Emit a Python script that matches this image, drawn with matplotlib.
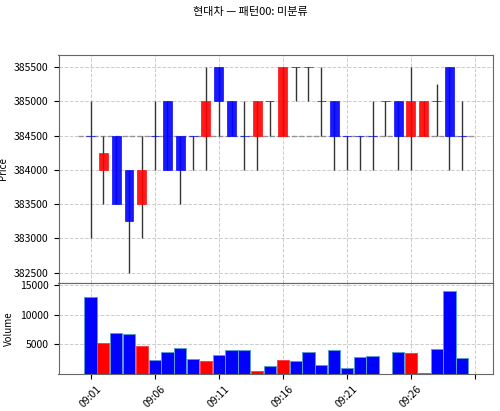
import numpy as np
import matplotlib
matplotlib.use('Agg')
import matplotlib.pyplot as plt

plt.rcParams['font.family'] = ['Noto Sans CJK KR', 'DejaVu Sans']
plt.rcParams['axes.unicode_minus'] = False

times = ['09:%02d' % m for m in range(1, 31)]
opens = [384500, 384000, 384500, 384000, 383500, 384500, 385000, 384500, 384500, 384500,
         385500, 385000, 384500, 384500, 385000, 384500, 385500, 385500, 385000, 385000,
         384500, 384500, 384500, 385000, 385000, 384500, 384500, 385000, 385500, 384500]
highs = [385000, 384500, 384500, 384000, 384500, 385000, 385000, 384500, 384500, 385500,
         385500, 385000, 385000, 385000, 385000, 385500, 385500, 385500, 385500, 385000,
         384500, 384500, 385000, 385000, 385000, 385500, 385000, 385250, 385500, 385000]
lows = [383000, 383500, 383500, 382500, 383000, 384000, 384000, 383500, 384000, 384000,
        384500, 384500, 384000, 384000, 384500, 384500, 385000, 385000, 384500, 384000,
        384000, 384000, 384000, 384500, 384000, 384000, 384500, 384500, 384000, 384000]
closes = [384500, 384250, 383500, 383250, 384000, 384500, 384000, 384000, 384500, 385000,
          385000, 384500, 384500, 385000, 385000, 385500, 385500, 385500, 385000, 384500,
          384500, 384500, 384500, 385000, 384500, 385000, 385000, 385000, 384500, 384500]
volumes = [13000, 5300, 6950, 6800, 4650, 2450, 3650, 4400, 2600, 2250,
           3150, 4100, 4100, 550, 1300, 2450, 2250, 3800, 1550, 4100,
           1100, 2800, 3100, 50, 3700, 3600, 150, 4250, 14000, 2650]
ref_price = 384500

n = len(times)
x = np.arange(n)
o = np.array(opens)
c = np.array(closes)
up = c > o
colors = np.where(up, 'red', 'blue')

fig, (ax, axv) = plt.subplots(2, 1, figsize=(5, 4.11), dpi=100, sharex=True,
                              gridspec_kw={'height_ratios': [2.5, 1], 'hspace': 0})
fig.subplots_adjust(left=0.117, right=0.986, top=0.866, bottom=0.09)
fig.suptitle('현대차 — 패턴00: 미분류', fontsize=8, y=0.982)

ax.hlines(ref_price, -1, n, colors='gray', linestyles='--', linewidth=1, alpha=0.8, zorder=1)
ax.vlines(x, lows, highs, color='#333333', linewidth=1, zorder=2)
ax.bar(x, c - o, bottom=o, width=0.7, color=colors, edgecolor=colors,
       linewidth=0.5, alpha=0.9, zorder=3)
ax.set_ylabel('Price', fontsize=7)
ax.set_ylim(382350, 385675)
ax.set_yticks(np.arange(382500, 385501, 500))
ax.grid(True, linestyle='--', color='#cccccc', linewidth=0.7)

axv.bar(x, volumes, width=0.95, color=colors,
        edgecolor=np.where(up, '#ff4040', '#5b9bd5'), linewidth=0.7)
axv.set_ylabel('Volume', fontsize=7)
axv.set_ylim(0, max(volumes) * 1.1)
axv.set_yticks([5000, 10000, 15000])
axv.grid(True, linestyle='--', color='#cccccc', linewidth=0.7)

ticks = list(range(0, n + 1, 5))
axv.set_xticks(ticks)
axv.set_xticklabels([times[t] if t < n else '' for t in ticks], rotation=45)
axv.set_xlim(-2.5, 31.4)

for a in (ax, axv):
    a.tick_params(labelsize=7.5)
    for s in a.spines.values():
        s.set_color('#666666')
    a.set_axisbelow(True)

plt.savefig('out.png')
